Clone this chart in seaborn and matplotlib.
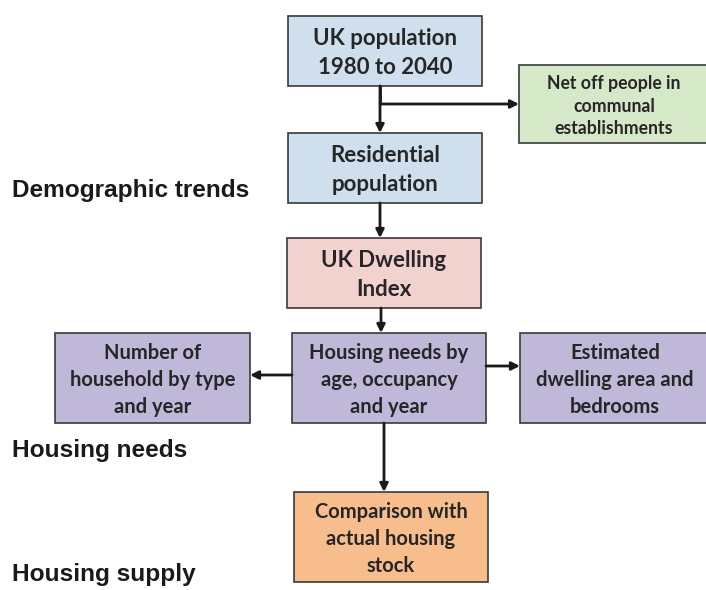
import matplotlib.pyplot as plt
import matplotlib.patches as mpatches
import seaborn as sns

sns.set_theme(style="white")
plt.rcParams['font.family'] = ['Lato', 'DejaVu Sans']

# box texts and fills
box_labels = [
    "UK population\n1980 to 2040",
    "Net off people in\ncommunal\nestablishments",
    "Residential\npopulation",
    "UK Dwelling\nIndex",
    "Housing needs by\nage, occupancy\nand year",
    "Number of\nhousehold by type\nand year",
    "Estimated\ndwelling area and\nbedrooms",
    "Comparison with\nactual housing\nstock",
]
box_colors = ["#cfdfee", "#d5e8c8", "#cfdfee", "#f1d2cf",
              "#c0b8d8", "#c0b8d8", "#c0b8d8", "#f8bd8d"]
box_fontsize = [16, 12.7, 16, 16, 14.5, 14.5, 14.5, 14.5]

# left, top, width, height in pixels
box_pos = [
    (288, 16, 194, 70),
    (519, 65, 190, 78),
    (288, 133, 194, 70),
    (287, 238, 194, 70),
    (292, 333, 194, 90),
    (55, 333, 195, 90),
    (520, 333, 190, 90),
    (294, 492, 194, 90),
]

side_labels = ["Demographic trends", "Housing needs", "Housing supply"]
side_y = [190, 451, 574]

# arrows: start -> end
arrows = [
    ((380, 86), (380, 133)),
    ((380, 104), (519, 104)),
    ((380, 203), (380, 238)),
    ((381, 308), (381, 333)),
    ((292, 375), (250, 375)),
    ((486, 366), (520, 366)),
    ((384, 423), (384, 492)),
]

fig = plt.figure(figsize=(7.06, 5.90), dpi=100)
ax = fig.add_axes([0, 0, 1, 1])
ax.set_xlim(0, 706)
ax.set_ylim(590, 0)
ax.axis("off")

for lab, col, fs, (x, y, w, h) in zip(box_labels, box_colors, box_fontsize, box_pos):
    ax.add_patch(mpatches.Rectangle((x, y), w, h, facecolor=col,
                                    edgecolor="#3a3a3a", lw=1.2))
    ax.text(x + w / 2, y + h / 2 + 2, lab, ha="center", va="center",
            fontsize=fs, fontweight="bold", color="#262626", linespacing=1.42)

# line from first box down (split to the right)
ax.plot([380, 380], [86, 104], color="#1a1a1a", lw=2)
for (x0, y0), (x1, y1) in arrows:
    ax.annotate("", xy=(x1, y1), xytext=(x0, y0),
                arrowprops=dict(arrowstyle="-|>", color="#1a1a1a", lw=2,
                                mutation_scale=12, shrinkA=0, shrinkB=0))

for lab, y in zip(side_labels, side_y):
    ax.text(12, y, lab, ha="left", va="center", fontsize=17.6,
            fontweight="bold", color="#1a1a1a",
            family=["Liberation Sans", "DejaVu Sans"])

fig.savefig("out.png", dpi=100)
